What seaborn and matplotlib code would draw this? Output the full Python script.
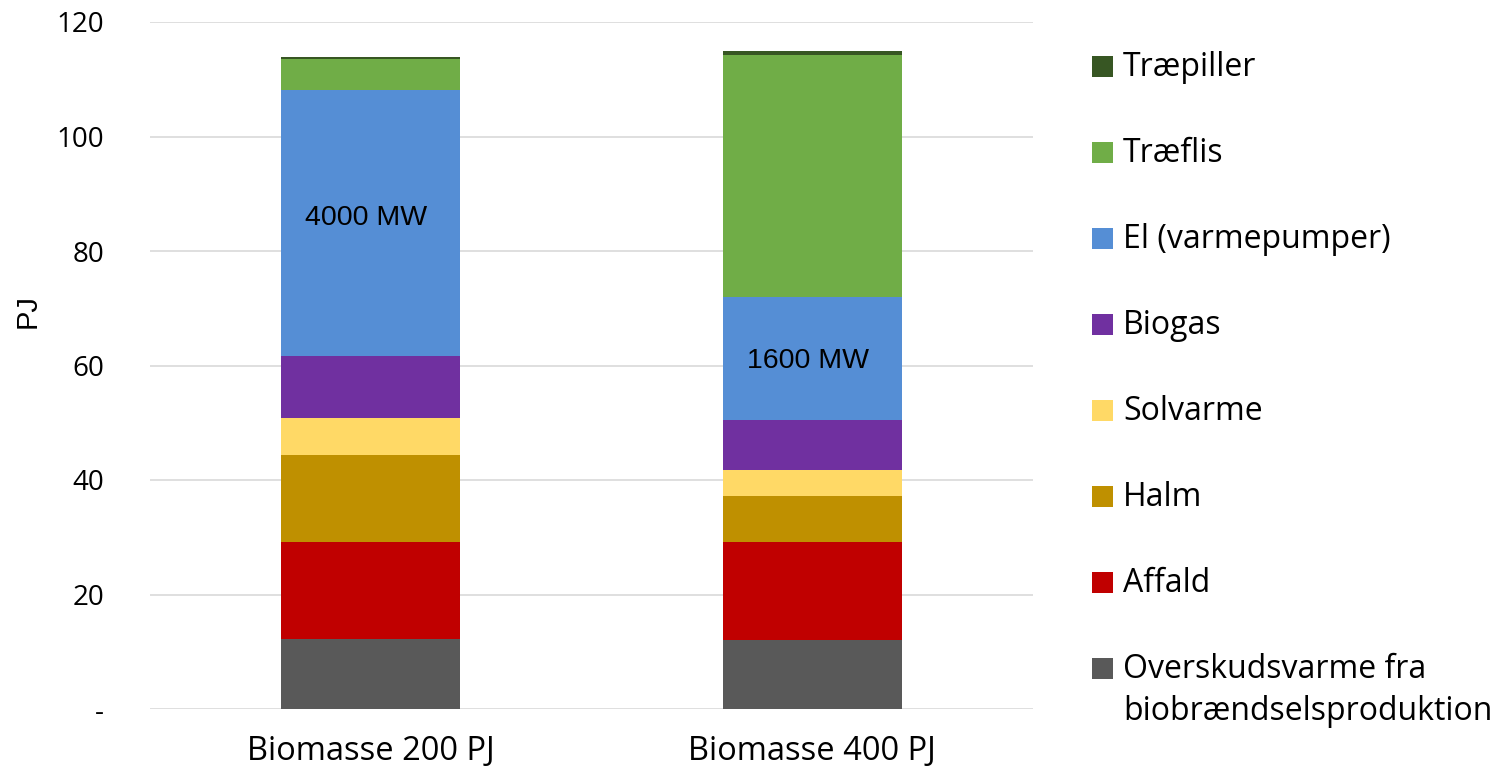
import matplotlib
matplotlib.use("Agg")
import matplotlib.pyplot as plt
import seaborn as sns
import pandas as pd
import numpy as np
from matplotlib.patches import Rectangle

# Scenarios on the x axis
scenarios = ["Biomasse 200 PJ", "Biomasse 400 PJ"]

# Heat supply by source, PJ (bottom to top in each stack)
sources = [
    "Overskudsvarme fra\nbiobrændselsproduktion",
    "Affald",
    "Halm",
    "Solvarme",
    "Biogas",
    "El (varmepumper)",
    "Træflis",
    "Træpiller",
]
overskudsvarme = [12.2, 12.1]
affald = [17.0, 17.1]
halm = [15.1, 8.0]
solvarme = [6.6, 4.5]
biogas = [10.7, 8.8]
el_varmepumper = [46.6, 21.4]
traeflis = [5.3, 42.3]
traepiller = [0.3, 0.8]

series_values = [overskudsvarme, affald, halm, solvarme, biogas,
                 el_varmepumper, traeflis, traepiller]

colors = ["#595959", "#C00000", "#BF9000", "#FFD966", "#7030A0",
          "#558ED5", "#70AD47", "#375623"]

# Heat pump capacity annotations inside the electricity segment
capacity_labels = ["4000 MW", "1600 MW"]
capacity_y = [85.8, 60.8]

sns.set_theme(style="white")
plt.rcParams["font.family"] = ["Open Sans", "DejaVu Sans"]

fig = plt.figure(figsize=(15.02, 7.73), dpi=100)
ax = fig.add_axes([150 / 1502, 64 / 773, 883 / 1502, 687 / 773])

# Stacked bars: draw cumulative totals from the top layer down
cum = np.cumsum(np.array(series_values), axis=0)
for i in range(len(sources) - 1, -1, -1):
    df = pd.DataFrame({"scenario": scenarios, "value": cum[i]})
    sns.barplot(data=df, x="scenario", y="value", order=scenarios,
                color=colors[i], width=0.405, saturation=1,
                linewidth=0, ax=ax, zorder=3)

for xi, (txt, yv) in enumerate(zip(capacity_labels, capacity_y)):
    ax.text(xi - 0.01, yv, txt, ha="center", va="center",
            fontsize=20.5, family="Liberation Sans", color="black", zorder=5)

ax.set_xlim(-0.5, 1.5)
ax.set_ylim(0, 120)
ax.set_yticks(np.arange(0, 121, 20))
ax.set_yticklabels(["-"] + [str(v) for v in range(20, 121, 20)])
ax.yaxis.grid(True, color="#D9D9D9", linewidth=1.2, zorder=0)
ax.set_axisbelow(True)
for s in ax.spines.values():
    s.set_visible(False)
ax.tick_params(axis="both", length=0)
ax.tick_params(axis="y", labelsize=20, pad=33, colors="black")
ax.tick_params(axis="x", labelsize=23.5, pad=19, colors="black")
ax.set_xlabel("")
ax.set_ylabel("PJ", fontsize=21, family="Liberation Sans", color="black")
ax.yaxis.set_label_coords(-0.123, 0.579)

# Legend, listed top-down in reverse stacking order
sq = 21
x_sq = 1092
x_txt = 1123
centers = [66.5 + 86 * k for k in range(len(sources))]
for k, idx in enumerate(range(len(sources) - 1, -1, -1)):
    cy = centers[k]
    fig.add_artist(Rectangle(((x_sq) / 1502, 1 - (cy + sq / 2) / 773),
                             sq / 1502, sq / 773, transform=fig.transFigure,
                             facecolor=colors[idx], edgecolor="none"))
    lines = sources[idx].split("\n")
    for j, line in enumerate(lines):
        base = cy + 10 + 42 * j
        fig.text(x_txt / 1502, 1 - base / 773, line, ha="left", va="baseline",
                 fontsize=23, color="black")

fig.savefig("out.png", dpi=100)
